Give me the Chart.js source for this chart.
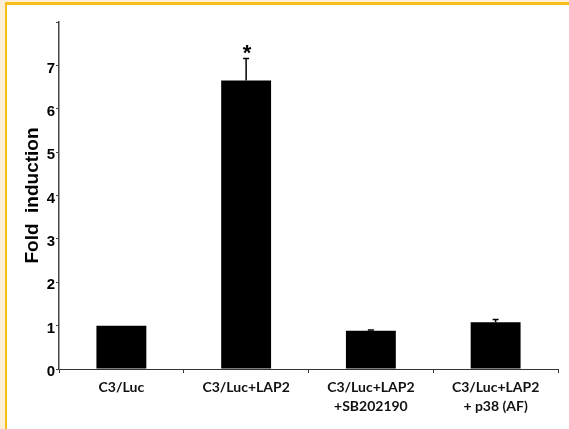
<!DOCTYPE html>
<html>
<head>
<meta charset="utf-8">
<script src="https://cdn.jsdelivr.net/npm/chart.js@4.4.1/dist/chart.umd.min.js"></script>
<style>
  html, body { margin: 0; padding: 0; }
  body { width: 569px; height: 429px; background: #fcefd6; position: relative; overflow: hidden; }
  #frame { position: absolute; left: 5px; top: 2px; width: 564px; height: 427px;
           border-left: 2px solid #f5bf1b; border-top: 3px solid #f5bf1b;
           background: #ffffff; box-sizing: border-box; }
  #wrap { position: absolute; left: 0; top: 0; width: 562px; height: 424px; }
</style>
</head>
<body>
<div id="frame"><div id="wrap"><canvas id="c" width="562" height="424"></canvas></div></div>
<script>
const categories = [
  ['C3/Luc'],
  ['C3/Luc+LAP2'],
  ['C3/Luc+LAP2', '+SB202190'],
  ['C3/Luc+LAP2', '+ p38 (AF)']
];
const foldValues = [1.0, 6.65, 0.88, 1.08];
const foldErrors = [0, 0.51, 0.02, 0.06];
const significance = ['', '*', '', ''];
const yTickValues = [0, 1, 2, 3, 4, 5, 6, 7];
const yAxisMax = 8;
const yAxisTitle = 'Fold  induction';

const errorBarPlugin = {
  id: 'errorBars',
  afterDatasetsDraw(chart) {
    const ctx = chart.ctx;
    const meta = chart.getDatasetMeta(0);
    const ys = chart.scales.y;
    ctx.save();
    meta.data.forEach((bar, i) => {
      const err = foldErrors[i];
      const x = bar.x;
      const yBase = ys.getPixelForValue(foldValues[i]);
      const yTop = ys.getPixelForValue(foldValues[i] + err);
      if (err > 0) {
        ctx.strokeStyle = '#000';
        ctx.lineWidth = 1.5;
        ctx.beginPath();
        ctx.moveTo(x, yBase);
        ctx.lineTo(x, yTop);
        ctx.moveTo(x - 3, yTop);
        ctx.lineTo(x + 3, yTop);
        ctx.stroke();
      }
      if (significance[i]) {
        ctx.fillStyle = '#000';
        ctx.font = 'bold 22px "Liberation Sans", Arial, sans-serif';
        ctx.textAlign = 'center';
        ctx.textBaseline = 'alphabetic';
        ctx.fillText(significance[i], x + 1, yTop + 2);
      }
    });
    ctx.restore();
  }
};

new Chart(document.getElementById('c'), {
  type: 'bar',
  data: {
    labels: categories,
    datasets: [{
      data: foldValues,
      backgroundColor: '#000000',
      borderWidth: 0,
      barPercentage: 0.4,
      categoryPercentage: 1.0
    }]
  },
  options: {
    responsive: false,
    animation: false,
    devicePixelRatio: 1,
    layout: { padding: { top: 17, right: 11, left: 0, bottom: 0 } },
    plugins: { legend: { display: false }, tooltip: { enabled: false } },
    scales: {
      x: {
        offset: true,
        grid: { display: true, drawOnChartArea: false, offset: true, tickLength: 4, color: '#333', lineWidth: 1 },
        border: { display: true, color: '#333', width: 1 },
        ticks: {
          color: '#111',
          padding: 5,
          maxRotation: 0,
          autoSkip: false,
          font: { family: 'Lato, "Open Sans", sans-serif', size: 14, weight: 'bold', lineHeight: 1.36 }
        },
        afterFit(scale) { scale.height = 60; }
      },
      y: {
        min: 0,
        max: yAxisMax,
        afterBuildTicks(scale) {
          scale.ticks = yTickValues.concat([yAxisMax]).map(v => ({ value: v }));
        },
        ticks: {
          color: '#000',
          padding: 1,
          labelOffset: 3,
          font: { family: '"Liberation Sans", Arial, sans-serif', size: 15, weight: 'bold' },
          callback: (v) => yTickValues.includes(v) ? String(v) : ''
        },
        grid: { display: true, drawOnChartArea: false, tickLength: 3, color: '#444', lineWidth: 1 },
        border: { display: true, color: '#444', width: 1.5 },
        title: {
          display: true,
          text: yAxisTitle,
          color: '#000',
          padding: { top: 14, bottom: 0 },
          font: { family: '"Liberation Sans", Arial, sans-serif', size: 19, weight: 'bold' }
        },
        afterFit(scale) { scale.width = 52; }
      }
    }
  },
  plugins: [errorBarPlugin]
});
</script>
</body>
</html>
